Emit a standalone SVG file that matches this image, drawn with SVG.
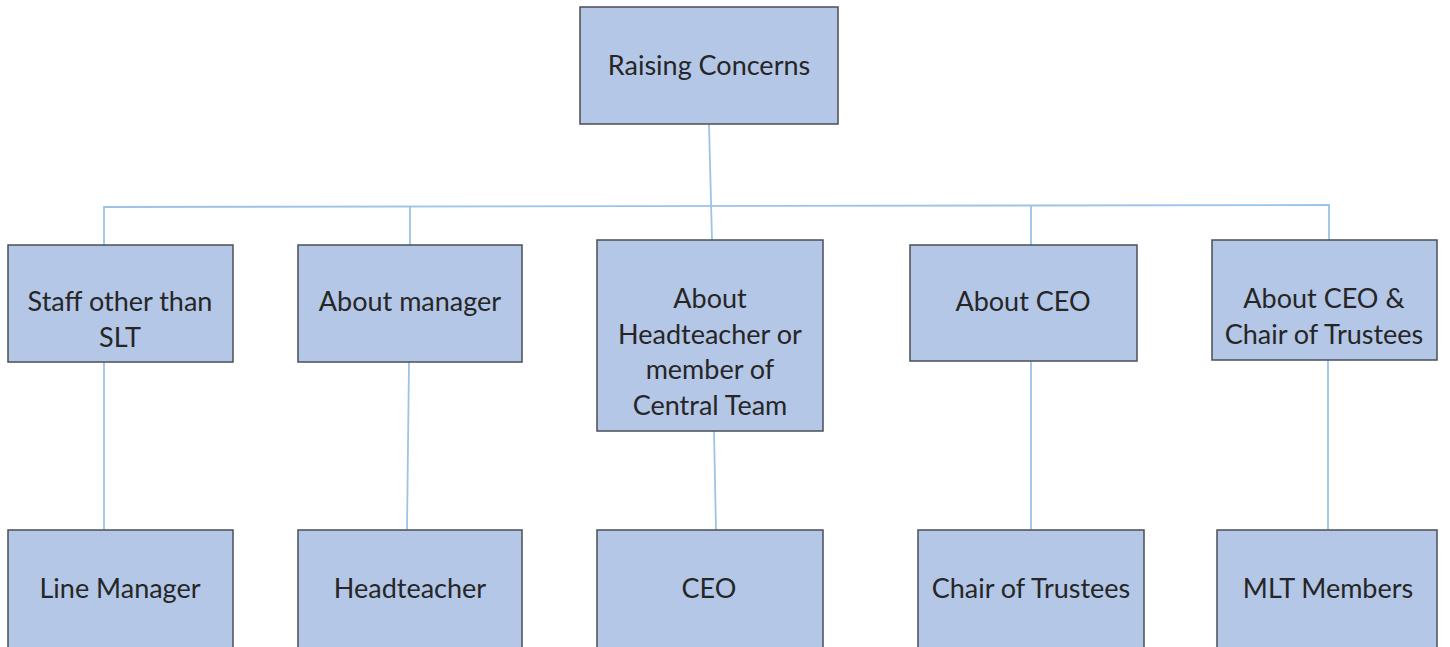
<svg xmlns="http://www.w3.org/2000/svg" width="1450" height="647" viewBox="0 0 1450 647">
<style>
.box{fill:#b4c7e7;stroke:#4a4f57;stroke-width:1.5}
.t{font-family:Lato,"Open Sans",sans-serif;font-size:27px;fill:#262626;text-anchor:middle}
.c{stroke:#9dc3e6;stroke-width:1.8;fill:none}
</style>
<rect width="1450" height="647" fill="#ffffff"/>
<g id="connectors">
<path class="c" d="M709 124 L712 240"/>
<path class="c" d="M104 245 L104 207 L1329 205 L1329 240"/>
<path class="c" d="M410 207 L410 245"/>
<path class="c" d="M1031 206 L1031 245"/>
<path class="c" d="M104 362 L104 530"/>
<path class="c" d="M409 362 L407 530"/>
<path class="c" d="M714 431 L716 530"/>
<path class="c" d="M1031 361 L1031 530"/>
<path class="c" d="M1328 360 L1328 530"/>
</g>
<g id="n-root"><rect class="box" x="580" y="7" width="258" height="117"/><text class="t" x="709" y="75">Raising Concerns</text></g>
<g id="n-staff"><rect class="box" x="8" y="245" width="225" height="117"/><text class="t" x="120" y="311">Staff other than</text><text class="t" x="120" y="347">SLT</text></g>
<g id="n-manager"><rect class="box" x="298" y="245" width="224" height="117"/><text class="t" x="410" y="311">About manager</text></g>
<g id="n-head"><rect class="box" x="597" y="240" width="226" height="191"/><text class="t" x="710" y="308">About</text><text class="t" x="710" y="344">Headteacher or</text><text class="t" x="710" y="379">member of</text><text class="t" x="710" y="415">Central Team</text></g>
<g id="n-ceo"><rect class="box" x="910" y="245" width="227" height="116"/><text class="t" x="1023" y="311">About CEO</text></g>
<g id="n-ceochair"><rect class="box" x="1212" y="240" width="225" height="120"/><text class="t" x="1324" y="308">About CEO &amp;</text><text class="t" x="1324" y="344">Chair of Trustees</text></g>
<g id="n-line"><rect class="box" x="8" y="530" width="225" height="130"/><text class="t" x="120" y="598">Line Manager</text></g>
<g id="n-headteacher"><rect class="box" x="298" y="530" width="224" height="130"/><text class="t" x="410" y="598">Headteacher</text></g>
<g id="n-ceo2"><rect class="box" x="597" y="530" width="226" height="130"/><text class="t" x="709" y="598">CEO</text></g>
<g id="n-chair"><rect class="box" x="918" y="530" width="226" height="130"/><text class="t" x="1031" y="598">Chair of Trustees</text></g>
<g id="n-mlt"><rect class="box" x="1217" y="530" width="220" height="130"/><text class="t" x="1328" y="598">MLT Members</text></g>
</svg>
